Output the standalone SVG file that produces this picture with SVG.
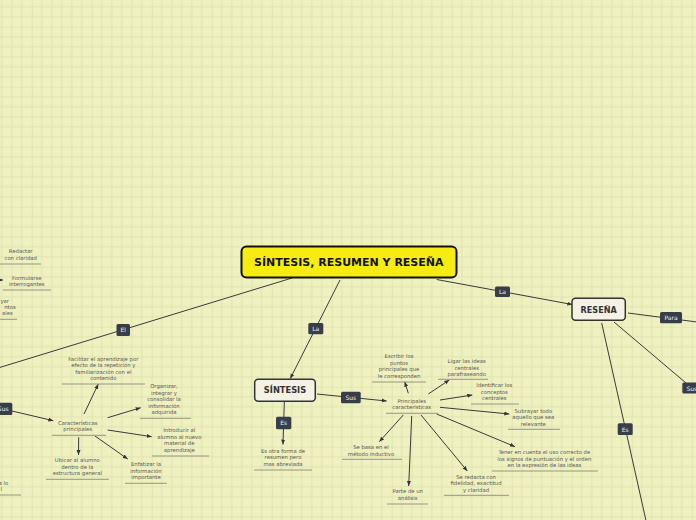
<svg xmlns="http://www.w3.org/2000/svg" width="696" height="520" viewBox="0 0 696 520">
<defs>
<pattern id="grid" patternUnits="userSpaceOnUse" x="-28.3" y="-33.3" width="60" height="60">
<rect width="60" height="60" fill="#eff1c1"/>
<path d="M10 0V60M20 0V60M30 0V60M40 0V60M50 0V60M0 10H60M0 20H60M0 30H60M0 40H60M0 50H60" stroke="#e0e3ae" stroke-width="1"/>
<path d="M0 0V60M0 0H60" stroke="#d8dba5" stroke-width="1.2"/>
</pattern>
<marker id="arr" markerUnits="userSpaceOnUse" markerWidth="5" markerHeight="5" viewBox="0 0 10 10" refX="10" refY="5" orient="auto">
<path d="M0 1L10 5L0 9z" fill="#333"/>
</marker>
<style>
.c{stroke:#3a3a3a;stroke-width:1;fill:none}
.ca{stroke:#3a3a3a;stroke-width:1;fill:none;marker-end:url(#arr)}
.lb rect{fill:#383d4a}
.lb text{fill:#f2f2f2;font-family:"DejaVu Sans",Verdana,sans-serif;font-size:6px;text-anchor:middle}
.t text{fill:#555;font-family:"DejaVu Sans",Verdana,sans-serif;font-size:5.3px;text-anchor:middle}
.t line{stroke:#8c8c7c;stroke-width:0.9}
.n rect{fill:#f4f2e4;stroke:#333;stroke-width:1.5}
.n text{fill:#333;font-family:"DejaVu Sans",Verdana,sans-serif;font-weight:bold;text-anchor:middle}
</style>
</defs>
<rect width="696" height="520" fill="url(#grid)"/>

<g id="connectors">
<line class="c" x1="292" y1="278" x2="-2" y2="368"/>
<line class="ca" x1="340" y1="280" x2="290.3" y2="378.5"/>
<line class="ca" x1="436.7" y1="279.5" x2="572.3" y2="304.5"/>
<line class="c" x1="628" y1="313" x2="697" y2="322"/>
<line class="c" x1="614" y1="322" x2="686" y2="383"/>
<line class="c" x1="601.7" y1="323" x2="647" y2="525"/>
<line class="ca" x1="284.3" y1="402" x2="283" y2="444.5"/>
<line class="ca" x1="317" y1="394" x2="386.7" y2="401"/>
<line class="ca" x1="408.3" y1="393.3" x2="404.7" y2="381.7"/>
<line class="ca" x1="428.3" y1="394" x2="449.3" y2="380"/>
<line class="ca" x1="440" y1="400" x2="472.3" y2="395"/>
<line class="ca" x1="440" y1="407.3" x2="509.3" y2="414"/>
<line class="ca" x1="436.7" y1="414" x2="515" y2="446.7"/>
<line class="ca" x1="421" y1="415" x2="467.3" y2="471"/>
<line class="ca" x1="411.7" y1="416" x2="408.7" y2="486"/>
<line class="ca" x1="403.3" y1="415" x2="379.3" y2="441.7"/>
<line class="ca" x1="12" y1="411" x2="53.3" y2="420.7"/>
<line class="ca" x1="84" y1="414" x2="98.3" y2="384"/>
<line class="ca" x1="107.7" y1="417.7" x2="140.7" y2="407.7"/>
<line class="ca" x1="107.7" y1="430" x2="151.7" y2="436.7"/>
<line class="ca" x1="95" y1="436" x2="127.7" y2="459"/>
<line class="ca" x1="78.7" y1="437.3" x2="78.5" y2="455"/>
<line class="ca" x1="-5" y1="280" x2="3" y2="280"/>
</g>

<g id="labels" class="lb">
<g id="lbl-el"><rect x="116.5" y="324" width="13.5" height="12" rx="1.5"/><text x="123.3" y="332">El</text></g>
<g id="lbl-la1"><rect x="308.3" y="323" width="15" height="11.3" rx="1.5"/><text x="315.8" y="331">La</text></g>
<g id="lbl-la2"><rect x="495" y="286.5" width="15" height="10.5" rx="1.5"/><text x="502.5" y="293.8">La</text></g>
<g id="lbl-para"><rect x="660" y="312" width="22" height="11.3" rx="1.5"/><text x="671" y="320">Para</text></g>
<g id="lbl-sus-r"><rect x="682.3" y="382.5" width="20" height="11" rx="1.5"/><text x="686.5" y="390.5" style="text-anchor:start">Sus</text></g>
<g id="lbl-es-r"><rect x="617.7" y="423.3" width="15" height="11.7" rx="1.5"/><text x="625.2" y="431.5">Es</text></g>
<g id="lbl-es-s"><rect x="276" y="416.7" width="15.3" height="12.6" rx="1.5"/><text x="283.7" y="425">Es</text></g>
<g id="lbl-sus-s"><rect x="341" y="391.7" width="19.7" height="11.6" rx="1.5"/><text x="350.8" y="399.7">Sus</text></g>
<g id="lbl-sus-l"><rect x="-8" y="402.7" width="20.3" height="12.3" rx="1.5"/><text x="8.6" y="411" style="text-anchor:end">Sus</text></g>
</g>

<g id="main">
<rect x="241.5" y="246.5" width="215" height="31" rx="5" fill="#f7ec12" stroke="#111" stroke-width="2"/>
<text x="348.8" y="266.3" font-family="'DejaVu Sans',Verdana,sans-serif" font-weight="bold" font-size="11" fill="#111" text-anchor="middle">SÍNTESIS, RESUMEN Y RESEÑA</text>
</g>
<g id="sintesis" class="n">
<rect x="254.7" y="379.3" width="60.6" height="22" rx="3.5"/>
<text x="285" y="393.3" font-size="8.3">SÍNTESIS</text>
</g>
<g id="resena" class="n">
<rect x="572" y="298.3" width="53.3" height="22" rx="3.5"/>
<text x="598.7" y="313.3" font-size="8.1">RESEÑA</text>
</g>

<g id="t-escribir" class="t"><text><tspan x="399" y="357.7">Escribir los</tspan><tspan x="399" y="364.7">puntos</tspan><tspan x="399" y="371.3">principales que</tspan><tspan x="399" y="378">le corresponden</tspan></text><line x1="372" y1="382" x2="426" y2="382"/></g>
<g id="t-ligar" class="t"><text><tspan x="466.7" y="362.7">Ligar las ideas</tspan><tspan x="466.7" y="369.7">centrales</tspan><tspan x="466.7" y="376">parafraseando</tspan></text><line x1="438" y1="379.3" x2="488" y2="379.3"/></g>
<g id="t-identificar" class="t"><text><tspan x="494.3" y="387">Identificar los</tspan><tspan x="494.3" y="394">conceptos</tspan><tspan x="494.3" y="400.3">centrales</tspan></text><line x1="471" y1="404" x2="519" y2="404"/></g>
<g id="t-subrayar" class="t"><text><tspan x="533.3" y="413">Subrayar todo</tspan><tspan x="533.3" y="419.3">aquello que sea</tspan><tspan x="533.3" y="426">relevante</tspan></text><line x1="508" y1="429.3" x2="560" y2="429.3"/></g>
<g id="t-tener" class="t"><text><tspan x="544.3" y="454">Tener en cuenta el uso correcto de</tspan><tspan x="544.3" y="460.7">los signos de puntuación y el orden</tspan><tspan x="544.3" y="467">en la expresión de las ideas</tspan></text><line x1="492" y1="471" x2="598" y2="471"/></g>
<g id="t-redacta" class="t"><text><tspan x="476" y="478.7">Se redacta con</tspan><tspan x="476" y="485.3">fidelidad, exactitud</tspan><tspan x="476" y="492">y claridad</tspan></text><line x1="444" y1="495.3" x2="509" y2="495.3"/></g>
<g id="t-parte" class="t"><text><tspan x="407.7" y="493">Parte de un</tspan><tspan x="407.7" y="499.7">análisis</tspan></text><line x1="387" y1="504" x2="428" y2="504"/></g>
<g id="t-basa" class="t"><text><tspan x="371" y="448.7">Se basa en el</tspan><tspan x="371" y="456">método inductivo</tspan></text><line x1="342" y1="459.3" x2="402" y2="459.3"/></g>
<g id="t-principales" class="t"><text><tspan x="411.7" y="403">Principales</tspan><tspan x="411.7" y="409">características</tspan></text><line x1="386" y1="413.3" x2="438" y2="413.3"/></g>
<g id="t-otra" class="t"><text><tspan x="283" y="452.7">Es otra forma de</tspan><tspan x="283" y="459.3">resumen pero</tspan><tspan x="283" y="466">mas abreviada</tspan></text><line x1="254" y1="470" x2="312" y2="470"/></g>
<g id="t-caracteristicas" class="t"><text><tspan x="77.7" y="424.7">Características</tspan><tspan x="77.7" y="431.3">principales</tspan></text><line x1="52" y1="435.3" x2="106" y2="435.3"/></g>
<g id="t-facilitar" class="t"><text><tspan x="103.3" y="361">Facilitar el aprendizaje por</tspan><tspan x="103.3" y="367.3">efecto de la repetición y</tspan><tspan x="103.3" y="374">familiarización con el</tspan><tspan x="103.3" y="380">contenido</tspan></text><line x1="62" y1="384" x2="145" y2="384"/></g>
<g id="t-organizar" class="t"><text><tspan x="164" y="388">Organizar,</tspan><tspan x="164" y="394.7">integrar y</tspan><tspan x="164" y="401">consolidar la</tspan><tspan x="164" y="407.7">información</tspan><tspan x="164" y="414">adquirida</tspan></text><line x1="140" y1="418.3" x2="191" y2="418.3"/></g>
<g id="t-introducir" class="t"><text><tspan x="179.3" y="432">Introducir al</tspan><tspan x="179.3" y="438.7">alumno al nuevo</tspan><tspan x="179.3" y="445.3">material de</tspan><tspan x="179.3" y="452">aprendizaje</tspan></text><line x1="152" y1="456" x2="209" y2="456"/></g>
<g id="t-enfatizar" class="t"><text><tspan x="146" y="466.3">Enfatizar la</tspan><tspan x="146" y="473">información</tspan><tspan x="146" y="479">importante</tspan></text><line x1="125" y1="483.3" x2="167" y2="483.3"/></g>
<g id="t-ubicar" class="t"><text><tspan x="77.3" y="462">Ubicar al alumno</tspan><tspan x="77.3" y="469">dentro de la</tspan><tspan x="77.3" y="475.3">estructura general</tspan></text><line x1="46" y1="479.3" x2="109" y2="479.3"/></g>
<g id="t-redactar" class="t"><text><tspan x="20.7" y="252.7">Redactar</tspan><tspan x="20.7" y="259.7">con claridad</tspan></text><line x1="0" y1="264" x2="41" y2="264"/></g>
<g id="t-formularse" class="t"><text><tspan x="26.7" y="279.7">Formularse</tspan><tspan x="26.7" y="285.7">interrogantes</tspan></text><line x1="3" y1="290" x2="51" y2="290"/></g>
<g id="t-frag1" class="t"><text style="text-anchor:end"><tspan x="9" y="302.7">yar</tspan><tspan x="15.7" y="308.7">ntos</tspan><tspan x="12.7" y="314.7">ales</tspan></text><line x1="0" y1="319.3" x2="17" y2="319.3"/></g>
<g id="t-frag2" class="t"><text style="text-anchor:end"><tspan x="8.3" y="485.3">s lo</tspan><tspan x="2" y="491">l</tspan></text><line x1="0" y1="495" x2="21" y2="495"/></g>
</svg>
